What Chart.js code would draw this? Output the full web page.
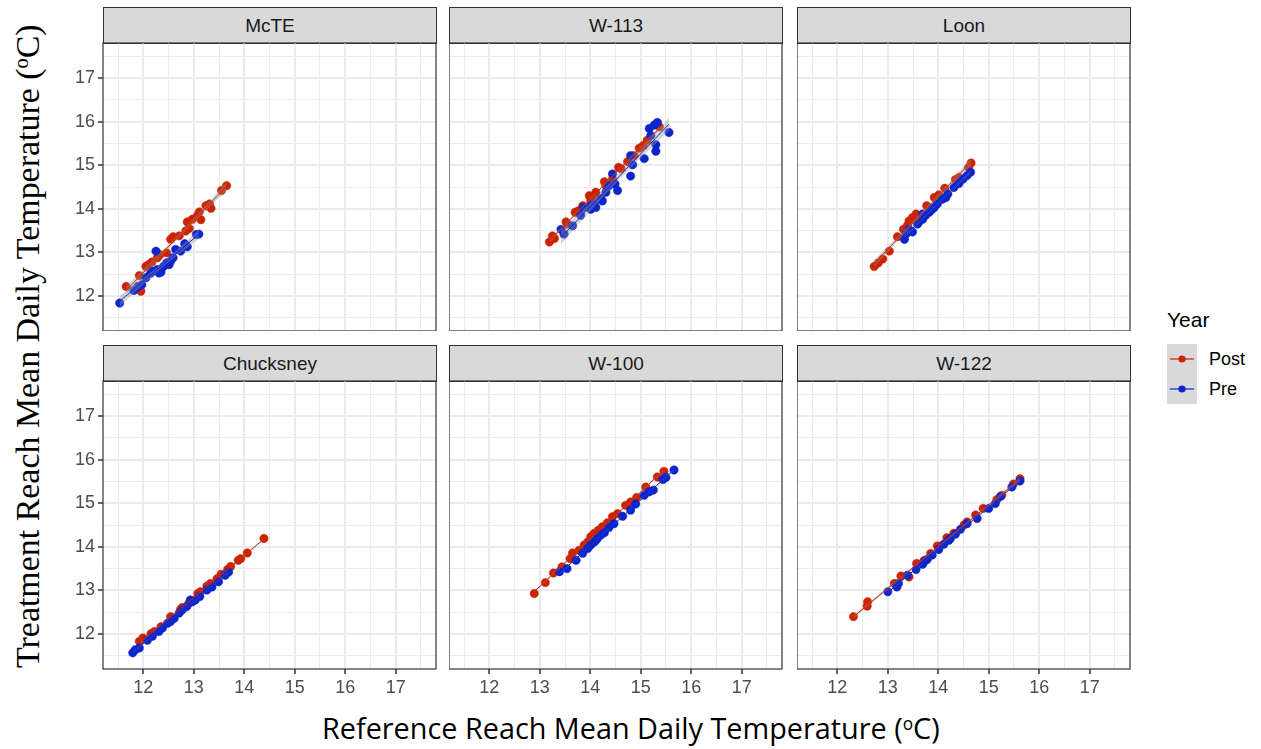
<!DOCTYPE html>
<html>
<head>
<meta charset="utf-8">
<title>Treatment vs reference reach temperature</title>
<script src="https://cdn.jsdelivr.net/npm/chart.js@4.4.1/dist/chart.umd.min.js"></script>
<style>
  html, body { margin: 0; padding: 0; background: #fff; }
  #fig { position: relative; width: 1261px; height: 749px; overflow: hidden;
         font-family: "Liberation Sans", Arial, sans-serif; }
  #fig canvas { position: absolute; }
  .strip { position: absolute; box-sizing: border-box; background: #d9d9d9;
           border: 1px solid #333; color: #1a1a1a; font-size: 19px;
           display: flex; align-items: center; justify-content: center; }
  .title { position: absolute; white-space: nowrap; color: #000; line-height: 1; }
  .title sup { font-size: 0.6em; vertical-align: 0.55em; line-height: 0; }
  #xtitle { font-family: "Open Sans", sans-serif; }
  #ytitle { font-family: "Liberation Serif", serif; transform-origin: 0 0; }
  #legend { position: absolute; left: 1167px; top: 308px; }
  #legend .lt { font-size: 21px; color: #000; margin-bottom: 12px; }
  #legend .row { display: flex; align-items: center; height: 30px; }
  #legend .row span { font-size: 18px; color: #000; margin-left: 12px; }
  #legend svg { display: block; background: #d9d9d9; }
</style>
</head>
<body>
<div id="fig"></div>
<script>
// Facet labels, in panel order (left to right, top to bottom)
const sites = ['McTE', 'W-113', 'Loon', 'Chucksney', 'W-100', 'W-122'];
const groups = ['Post', 'Pre'];

// Shared axis limits and grid positions (deg C)
const axisMin = 11.2;
const axisMax = 17.8;
const majorTicks = [12, 13, 14, 15, 16, 17];
const minorTicks = [11.5, 12.5, 13.5, 14.5, 15.5, 16.5, 17.5];

// McTE: reference reach (x) and treatment reach (y) daily means
const mcteRefPost = [11.66, 11.92, 11.95, 12.05, 12.10, 12.17, 12.28, 12.33, 12.46, 12.54, 12.59, 12.71, 12.84, 12.87, 12.91, 12.97, 13.07, 13.11, 13.14, 13.24, 13.31, 13.34, 13.55, 13.65];
const mcteTrtPost = [12.22, 12.47, 12.11, 12.68, 12.72, 12.78, 12.88, 12.95, 12.99, 13.30, 13.36, 13.38, 13.49, 13.70, 13.55, 13.76, 13.84, 13.93, 13.75, 14.07, 14.11, 14.01, 14.42, 14.53];
const mcteRefPre  = [11.53, 11.81, 11.89, 11.97, 12.05, 12.14, 12.18, 12.25, 12.28, 12.31, 12.35, 12.40, 12.46, 12.51, 12.54, 12.59, 12.64, 12.74, 12.82, 12.87, 13.05, 13.10];
const mcteTrtPre  = [11.84, 12.13, 12.22, 12.26, 12.42, 12.52, 12.57, 13.03, 12.61, 12.53, 12.55, 12.68, 12.76, 12.72, 12.80, 12.88, 13.07, 13.03, 13.20, 13.13, 13.41, 13.42];

// W-113
const w113RefPost = [13.19, 13.25, 13.29, 13.52, 13.55, 13.70, 13.76, 13.85, 13.98, 14.01, 14.04, 14.11, 14.28, 14.31, 14.44, 14.56, 14.61, 14.74, 14.87, 14.97, 15.05, 15.13, 15.37];
const w113TrtPost = [13.24, 13.38, 13.32, 13.70, 13.65, 13.92, 13.95, 14.07, 14.30, 14.18, 14.24, 14.38, 14.62, 14.53, 14.68, 14.95, 14.92, 15.08, 15.22, 15.39, 15.45, 15.57, 15.88];
const w113RefPre  = [13.42, 13.48, 13.65, 13.81, 13.86, 14.01, 14.01, 14.08, 14.11, 14.21, 14.24, 14.31, 14.37, 14.44, 14.49, 14.54, 14.80, 14.80, 14.84, 15.07, 15.17, 15.20, 15.27, 15.30, 15.30, 15.33, 15.56];
const w113TrtPre  = [13.53, 13.42, 13.61, 13.85, 14.03, 13.99, 14.07, 14.11, 14.03, 14.24, 14.18, 14.38, 14.53, 14.80, 14.57, 14.42, 14.75, 15.22, 15.01, 15.15, 15.84, 15.68, 15.92, 15.47, 15.32, 15.98, 15.75];

// Loon
const loonRefPost = [12.73, 12.81, 12.90, 13.03, 13.19, 13.31, 13.39, 13.42, 13.49, 13.56, 13.62, 13.77, 13.84, 13.92, 14.01, 14.13, 14.34, 14.41, 14.60, 14.65];
const loonTrtPost = [12.68, 12.76, 12.85, 13.03, 13.36, 13.53, 13.62, 13.72, 13.80, 13.88, 13.70, 14.07, 13.95, 14.26, 14.32, 14.47, 14.67, 14.72, 14.95, 15.05];
const loonRefPre  = [13.33, 13.36, 13.42, 13.49, 13.59, 13.69, 13.69, 13.75, 13.82, 13.88, 13.92, 13.98, 14.08, 14.15, 14.19, 14.31, 14.41, 14.49, 14.57, 14.64];
const loonTrtPre  = [13.30, 13.42, 13.53, 13.47, 13.65, 13.76, 13.88, 13.85, 13.92, 13.99, 14.03, 14.11, 14.22, 14.26, 14.34, 14.49, 14.58, 14.68, 14.76, 14.84];

// Chucksney
const chuckRefPost = [11.92, 11.99, 12.15, 12.22, 12.35, 12.54, 12.74, 12.77, 12.90, 13.08, 13.13, 13.26, 13.33, 13.46, 13.54, 13.67, 13.73, 13.88, 13.93, 14.06, 14.39];
const chuckTrtPost = [11.83, 11.91, 12.01, 12.06, 12.17, 12.40, 12.57, 12.61, 12.70, 12.93, 12.97, 13.10, 13.16, 13.27, 13.37, 13.48, 13.55, 13.69, 13.73, 13.86, 14.19];
const chuckRefPre  = [11.79, 11.84, 11.92, 12.08, 12.18, 12.31, 12.38, 12.48, 12.54, 12.61, 12.71, 12.77, 12.86, 12.93, 12.97, 13.03, 13.12, 13.26, 13.36, 13.49, 13.62, 13.69];
const chuckTrtPre  = [11.57, 11.64, 11.68, 11.86, 11.95, 12.06, 12.14, 12.25, 12.29, 12.36, 12.48, 12.55, 12.63, 12.78, 12.74, 12.78, 12.86, 13.01, 13.08, 13.20, 13.35, 13.42];

// W-100
const w100RefPost = [12.89, 13.11, 13.27, 13.44, 13.60, 13.65, 13.78, 13.88, 13.95, 14.01, 14.08, 14.16, 14.24, 14.34, 14.44, 14.54, 14.70, 14.80, 14.92, 15.10, 15.33, 15.46];
const w100TrtPost = [12.93, 13.18, 13.40, 13.54, 13.73, 13.86, 13.92, 14.04, 14.11, 14.23, 14.31, 14.38, 14.46, 14.55, 14.69, 14.76, 14.95, 15.03, 15.13, 15.37, 15.60, 15.73];
const w100RefPre  = [13.39, 13.54, 13.72, 13.85, 13.95, 14.01, 14.08, 14.11, 14.14, 14.21, 14.28, 14.37, 14.47, 14.64, 14.80, 14.90, 15.07, 15.17, 15.25, 15.44, 15.50, 15.66];
const w100TrtPre  = [13.43, 13.50, 13.69, 13.85, 13.96, 14.04, 14.11, 14.15, 14.19, 14.27, 14.32, 14.44, 14.53, 14.70, 14.84, 14.98, 15.18, 15.26, 15.30, 15.54, 15.59, 15.76];

// W-122
const w122RefPost = [12.32, 12.59, 12.60, 13.13, 13.26, 13.42, 13.57, 13.72, 13.85, 13.98, 14.17, 14.31, 14.51, 14.57, 14.74, 14.89, 15.16, 15.26, 15.49, 15.62];
const w122TrtPost = [12.40, 12.64, 12.74, 13.16, 13.33, 13.31, 13.62, 13.69, 13.85, 14.02, 14.21, 14.31, 14.50, 14.57, 14.73, 14.88, 15.08, 15.18, 15.44, 15.56];
const w122RefPre  = [13.00, 13.18, 13.21, 13.39, 13.56, 13.69, 13.72, 13.78, 13.88, 14.01, 14.11, 14.21, 14.24, 14.34, 14.44, 14.57, 14.77, 15.00, 15.13, 15.23, 15.46, 15.62];
const w122TrtPre  = [12.97, 13.08, 13.16, 13.35, 13.48, 13.60, 13.66, 13.71, 13.81, 13.94, 14.06, 14.15, 14.19, 14.29, 14.40, 14.53, 14.65, 14.88, 14.99, 15.15, 15.37, 15.51];

const refPost = [mcteRefPost, w113RefPost, loonRefPost, chuckRefPost, w100RefPost, w122RefPost];
const trtPost = [mcteTrtPost, w113TrtPost, loonTrtPost, chuckTrtPost, w100TrtPost, w122TrtPost];
const refPre  = [mcteRefPre,  w113RefPre,  loonRefPre,  chuckRefPre,  w100RefPre,  w122RefPre];
const trtPre  = [mcteTrtPre,  w113TrtPre,  loonTrtPre,  chuckTrtPre,  w100TrtPre,  w122TrtPre];

const groupColors = { Post: '#cc2200', Pre: '#0b24cc' };
const bandFill = 'rgba(153,153,153,0.4)';
const gridColor = '#ebebeb';
const inkColor = '#333333';
const tickTextColor = '#4d4d4d';

// Facet geometry (px)
const colLefts = [103, 449, 797];
const rowTops = [43, 381];
const panelW = 333;
const panelH = 288;
const stripH = 36;
const yAxisW = 45;
const xAxisH = 34;

const gridValues = minorTicks.concat(majorTicks).sort((a, b) => a - b);
const isMajor = v => majorTicks.includes(v);

// Student t 97.5% quantile (Cornish-Fisher expansion)
function tCrit(df) {
  const z = 1.959964;
  return z + (z ** 3 + z) / (4 * df) + (5 * z ** 5 + 16 * z ** 3 + 3 * z) / (96 * df * df);
}

// Ordinary least squares line with 95% confidence ribbon, like geom_smooth(method = "lm")
function linearFit(xs, ys) {
  const n = xs.length;
  const mx = xs.reduce((a, b) => a + b, 0) / n;
  const my = ys.reduce((a, b) => a + b, 0) / n;
  let sxx = 0, sxy = 0;
  for (let i = 0; i < n; i++) { sxx += (xs[i] - mx) ** 2; sxy += (xs[i] - mx) * (ys[i] - my); }
  const b = sxy / sxx, a = my - b * mx;
  let sse = 0;
  for (let i = 0; i < n; i++) sse += (ys[i] - a - b * xs[i]) ** 2;
  const s = Math.sqrt(sse / (n - 2));
  const t = tCrit(n - 2);
  const lo = Math.min(...xs), hi = Math.max(...xs);
  const line = [], upper = [], lower = [];
  const steps = 40;
  for (let k = 0; k <= steps; k++) {
    const x = lo + (hi - lo) * k / steps;
    const fit = a + b * x;
    const se = s * Math.sqrt(1 / n + (x - mx) ** 2 / sxx);
    line.push({ x, y: fit });
    upper.push({ x, y: fit + t * se });
    lower.push({ x, y: fit - t * se });
  }
  return { line, upper, lower };
}

const toPoints = (xs, ys) => xs.map((x, i) => ({ x, y: ys[i] }));

// Frame drawn over the plotting region of each facet
const panelBorder = {
  id: 'panelBorder',
  afterDatasetsDraw(chart) {
    const { ctx, chartArea: a } = chart;
    ctx.save();
    ctx.strokeStyle = inkColor;
    ctx.lineWidth = 1.2;
    ctx.strokeRect(a.left, a.top, a.right - a.left, a.bottom - a.top);
    ctx.restore();
  }
};

// Fix an axis band to an exact size and drop the label overhang padding
const fixAxisSize = (prop, size) => s => {
  s[prop] = size;
  s.paddingLeft = 0; s.paddingRight = 0; s.paddingTop = 0; s.paddingBottom = 0;
};

const fig = document.getElementById('fig');

sites.forEach((site, i) => {
  const col = i % 3, row = Math.floor(i / 3);
  const isLeft = col === 0, isBottom = row === 1;
  const yw = isLeft ? yAxisW : 0;
  const xh = isBottom ? xAxisH : 0;
  const left = colLefts[col], top = rowTops[row];

  const strip = document.createElement('div');
  strip.className = 'strip';
  strip.textContent = site;
  strip.style.left = left + 'px';
  strip.style.top = (top - stripH) + 'px';
  strip.style.width = (panelW + 1) + 'px';
  strip.style.height = (stripH + 1) + 'px';
  fig.appendChild(strip);

  const canvas = document.createElement('canvas');
  canvas.width = panelW + yw + 1;
  canvas.height = panelH + 1 + xh;
  canvas.style.left = (left - yw) + 'px';
  canvas.style.top = (top - 1) + 'px';
  fig.appendChild(canvas);

  const fitPost = linearFit(refPost[i], trtPost[i]);
  const fitPre = linearFit(refPre[i], trtPre[i]);

  const lineDs = (data, color) => ({
    type: 'line', data, borderColor: color, borderWidth: 1, pointRadius: 0,
    fill: false, tension: 0, order: 0
  });
  const bandDs = (data, fill) => ({
    type: 'line', data, borderWidth: 0, borderColor: 'rgba(0,0,0,0)', pointRadius: 0,
    backgroundColor: bandFill, fill, tension: 0, order: 1
  });
  const pointDs = (data, color, order) => ({
    type: 'scatter', data, backgroundColor: color, borderColor: color, borderWidth: 0.5,
    pointRadius: 4.2, order
  });

  const axisBase = (display, sizer) => ({
    type: 'linear', min: axisMin, max: axisMax,
    afterBuildTicks: s => { s.ticks = gridValues.map(v => ({ value: v })); },
    afterFit: sizer,
    border: { display: false },
    grid: {
      color: gridColor,
      lineWidth: c => (c.tick && isMajor(c.tick.value)) ? 2 : 1,
      drawTicks: display,
      tickLength: 5,
      tickWidth: 1.5,
      tickColor: c => (c.tick && isMajor(c.tick.value)) ? inkColor : 'rgba(0,0,0,0)'
    },
    ticks: {
      display, autoSkip: false, maxRotation: 0, color: tickTextColor,
      font: { family: 'Liberation Sans', size: 18 }, padding: 3,
      callback: v => isMajor(v) ? String(v) : ''
    }
  });

  new Chart(canvas, {
    type: 'scatter',
    data: {
      datasets: [
        lineDs(fitPost.line, groupColors.Post),
        lineDs(fitPre.line, groupColors.Pre),
        bandDs(fitPost.upper, '+1'),
        bandDs(fitPost.lower, false),
        bandDs(fitPre.upper, '+1'),
        bandDs(fitPre.lower, false),
        pointDs(toPoints(refPre[i], trtPre[i]), groupColors.Pre, 2),
        pointDs(toPoints(refPost[i], trtPost[i]), groupColors.Post, 3)
      ]
    },
    options: {
      responsive: false,
      animation: false,
      events: [],
      layout: { autoPadding: false, padding: { top: 1, right: 1, left: 0, bottom: 0 } },
      plugins: { legend: { display: false }, tooltip: { enabled: false } },
      scales: {
        x: axisBase(isBottom, fixAxisSize('height', xh)),
        y: axisBase(isLeft, fixAxisSize('width', yw))
      }
    },
    plugins: [panelBorder]
  });
});

// Axis titles
const xTitle = document.createElement('div');
xTitle.id = 'xtitle';
xTitle.className = 'title';
xTitle.innerHTML = 'Reference Reach Mean Daily Temperature (<sup>o</sup>C)';
fig.appendChild(xTitle);

const yTitle = document.createElement('div');
yTitle.id = 'ytitle';
yTitle.className = 'title';
yTitle.innerHTML = 'Treatment Reach Mean Daily Temperature (<sup>o</sup>C)';
fig.appendChild(yTitle);

function sizeToLength(el, base, length) {
  el.style.fontSize = base + 'px';
  const w = el.getBoundingClientRect().width;
  el.style.fontSize = (base * length / w).toFixed(2) + 'px';
}
sizeToLength(xTitle, 26, 618);
xTitle.style.left = '322px';
xTitle.style.top = (737 - xTitle.getBoundingClientRect().height * 0.8) + 'px';

sizeToLength(yTitle, 31, 644);
const yh = yTitle.getBoundingClientRect().height;
yTitle.style.left = (28 - yh / 2) + 'px';
yTitle.style.top = (346 + 322) + 'px';
yTitle.style.transform = 'rotate(-90deg)';

// Legend
const legend = document.createElement('div');
legend.id = 'legend';
let rows = '';
groups.forEach(g => {
  rows += '<div class="row"><svg width="30" height="30">' +
    '<line x1="3" y1="15" x2="27" y2="15" stroke="' + groupColors[g] + '" stroke-width="1.2"/>' +
    '<circle cx="15" cy="15" r="3.6" fill="' + groupColors[g] + '"/></svg><span>' + g + '</span></div>';
});
legend.innerHTML = '<div class="lt">Year</div>' + rows;
fig.appendChild(legend);
</script>
</body>
</html>
